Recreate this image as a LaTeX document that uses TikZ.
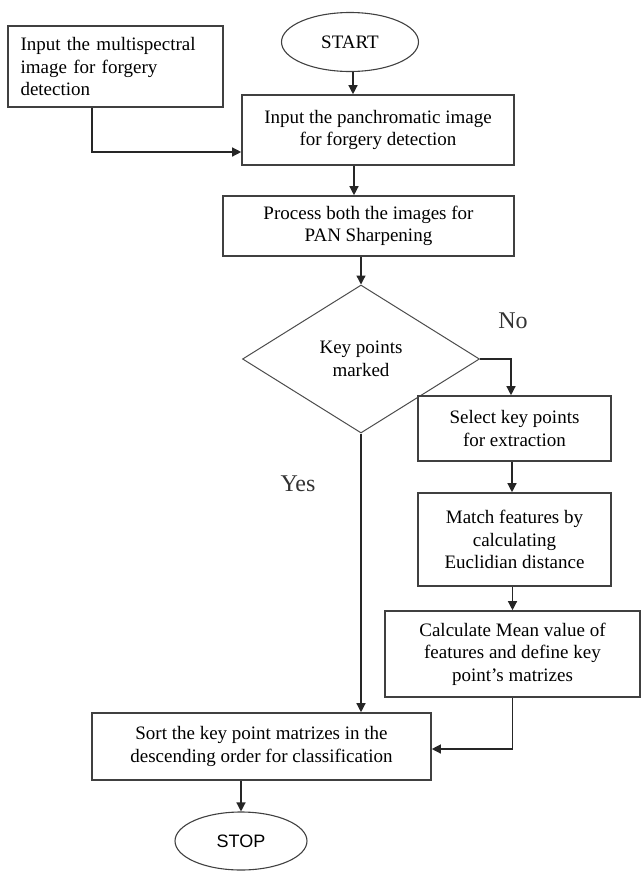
\documentclass[tikz,border=0pt]{standalone}
\usepackage{fontspec}
\setmainfont{Liberation Serif}
\newfontfamily\stopfont{Liberation Sans}
\usetikzlibrary{shapes.geometric,arrows.meta}
\begin{document}
\begin{tikzpicture}[x=1pt,y=-1pt,
  every node/.style={font=\fontsize{19}{22.5}\selectfont},
  box/.style={draw=black!75, line width=1.6pt, rectangle, align=center, inner sep=0pt},
  term/.style={draw=black!75, line width=1.1pt, ellipse, inner sep=0pt},
  decision/.style={draw=black!70, line width=1pt, diamond, aspect=1.6, inner sep=0pt, align=center},
  arr/.style={draw=black!85, line width=1.3pt, -{Triangle[length=9pt,width=9pt]}},
  lbl/.style={font=\fontsize{24}{28}\selectfont, text=black!80}]
\useasboundingbox (0,0) rectangle (642,871);
\node[term, minimum width=137pt, minimum height=59pt] (start) at (350,42) {START};
\node[box, minimum width=215pt, minimum height=81pt, text width=190pt, align=left] (multi) at (115.5,66.5)
  {Input the multispectral\\image for forgery\\detection};
\node[box, minimum width=272pt, minimum height=70pt] (pan) at (378,130)
  {Input the panchromatic image\\for forgery detection};
\node[box, minimum width=291pt, minimum height=60pt] (proc) at (368.5,226)
  {Process both the images for\\PAN Sharpening};
\node[decision, minimum width=237pt, minimum height=148pt] (dia) at (361,359)
  {Key points\\marked};
\node[box, minimum width=193pt, minimum height=65pt] (select) at (514.5,428.5)
  {Select key points\\for extraction};
\node[box, minimum width=193pt, minimum height=93pt] (match) at (514.5,539.5)
  {Match features by\\calculating\\Euclidian distance};
\node[box, minimum width=255pt, minimum height=86pt] (calc) at (512.5,654)
  {Calculate Mean value of\\features and define key\\point's matrizes};
\node[box, minimum width=339pt, minimum height=67pt] (sort) at (261.5,746.5)
  {Sort the key point matrizes in the\\descending order for classification};
\node[term, minimum width=132pt, minimum height=58pt, font=\stopfont\fontsize{18}{22}\selectfont] (stop) at (241,841) {STOP};
\node[lbl] (no) at (513,321) {No};
\node[lbl] (yes) at (298,484) {Yes};
\draw[arr] ([xshift=3pt]start.south) -- ([xshift=3pt]start.south |- pan.north);
\draw[arr] ([xshift=-23.5pt]multi.south) |- ([yshift=-22pt]pan.west);
\draw[arr] ([xshift=4pt]start.south |- pan.south) -- ([xshift=4pt]start.south |- proc.north);
\draw[arr] (proc.south -| dia.north) -- (dia.north);
\draw[arr] (dia.east) -| ([xshift=-3.5pt]select.north);
\draw[arr] ([xshift=-2.5pt]select.south) -- ([xshift=-2.5pt]match.north);
\draw[arr] (match.south -| calc.north) -- (calc.north);
\draw[arr] (dia.south) -- (dia.south |- sort.north);
\draw[arr] (calc.south) |- ([yshift=-2.5pt]sort.east);
\draw[arr] (sort.south -| stop.north) -- (stop.north);
\end{tikzpicture}
\end{document}
